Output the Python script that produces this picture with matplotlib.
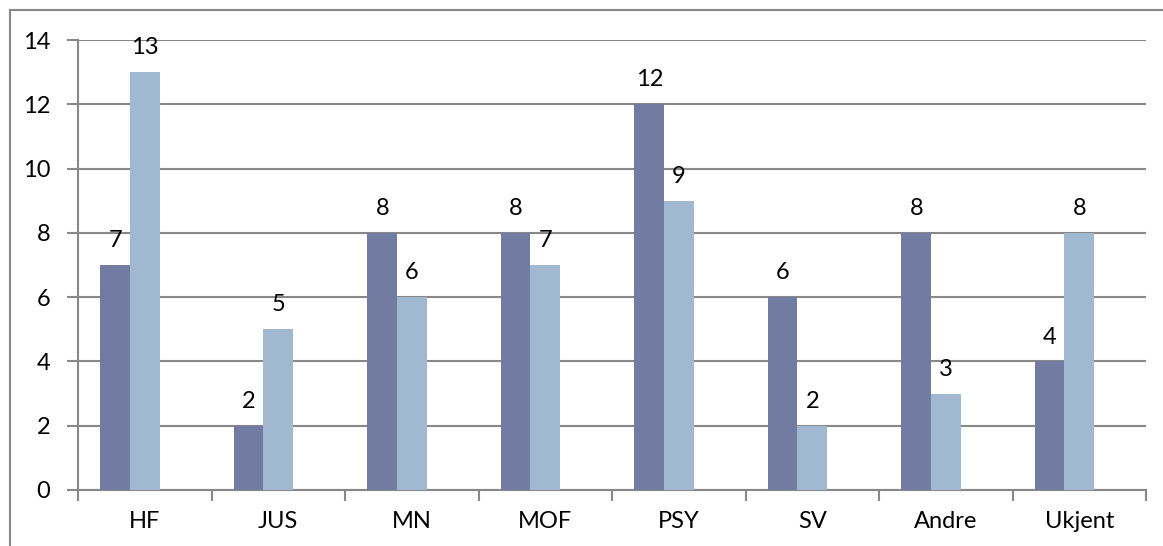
import matplotlib
matplotlib.use("Agg")
import matplotlib.pyplot as plt
from matplotlib.lines import Line2D
import numpy as np

categories = ["HF", "JUS", "MN", "MOF", "PSY", "SV", "Andre", "Ukjent"]
series_dark = [7, 2, 8, 8, 12, 6, 8, 4]
series_light = [13, 5, 6, 7, 9, 2, 3, 8]
yticks = [0, 2, 4, 6, 8, 10, 12, 14]

plt.rcParams['font.family'] = ['Lato', 'DejaVu Sans']
W, H = 1163, 546
fig = plt.figure(figsize=(W / 100, H / 100), dpi=100)
ax = fig.add_axes([78 / W, 1 - 490 / H, (1146 - 78) / W, (490 - 40) / H])

n = len(categories)
x = np.arange(n) + 0.5
w = 0.221
dark = "#727ca3"
light = "#a0b8d0"
ax.bar(x - w, series_dark, width=w, color=dark, zorder=3)
ax.bar(x, series_light, width=w, color=light, zorder=3)

fs = 17
for xi, v in zip(x - w, series_dark):
    ax.annotate(str(v), (xi, v), xytext=(0, 10), textcoords="offset points",
                ha="center", va="bottom", fontsize=fs, color="black")
for xi, v in zip(x, series_light):
    ax.annotate(str(v), (xi, v), xytext=(0, 10), textcoords="offset points",
                ha="center", va="bottom", fontsize=fs, color="black")

ax.set_xlim(0, n)
ax.set_ylim(0, 14)
ax.set_yticks(yticks)
ax.set_yticklabels([str(t) for t in yticks], fontsize=fs)
ax.set_xticks(x)
ax.set_xticklabels(categories, fontsize=fs)
ax.tick_params(axis="x", length=0, pad=15)
ax.set_xticks(np.arange(n + 1), minor=True)
ax.tick_params(axis="x", which="minor", length=8, color="#888888", width=1.5, direction="out")
ax.tick_params(axis="y", length=8, color="#888888", width=1.5, pad=12)
ax.grid(axis="y", color="#888888", linewidth=1.5, zorder=0)
for s in ["top", "right"]:
    ax.spines[s].set_visible(False)
for s in ["left", "bottom"]:
    ax.spines[s].set_color("#888888")
    ax.spines[s].set_linewidth(1.5)

# outer frame (top and left edges visible)
fig.add_artist(Line2D([10 / W, 10 / W], [0, 1 - 10 / H], transform=fig.transFigure,
                      color="#888888", linewidth=1.5))
fig.add_artist(Line2D([10 / W, 1], [1 - 10 / H, 1 - 10 / H], transform=fig.transFigure,
                      color="#888888", linewidth=1.5))

fig.savefig("out.png", dpi=100)
